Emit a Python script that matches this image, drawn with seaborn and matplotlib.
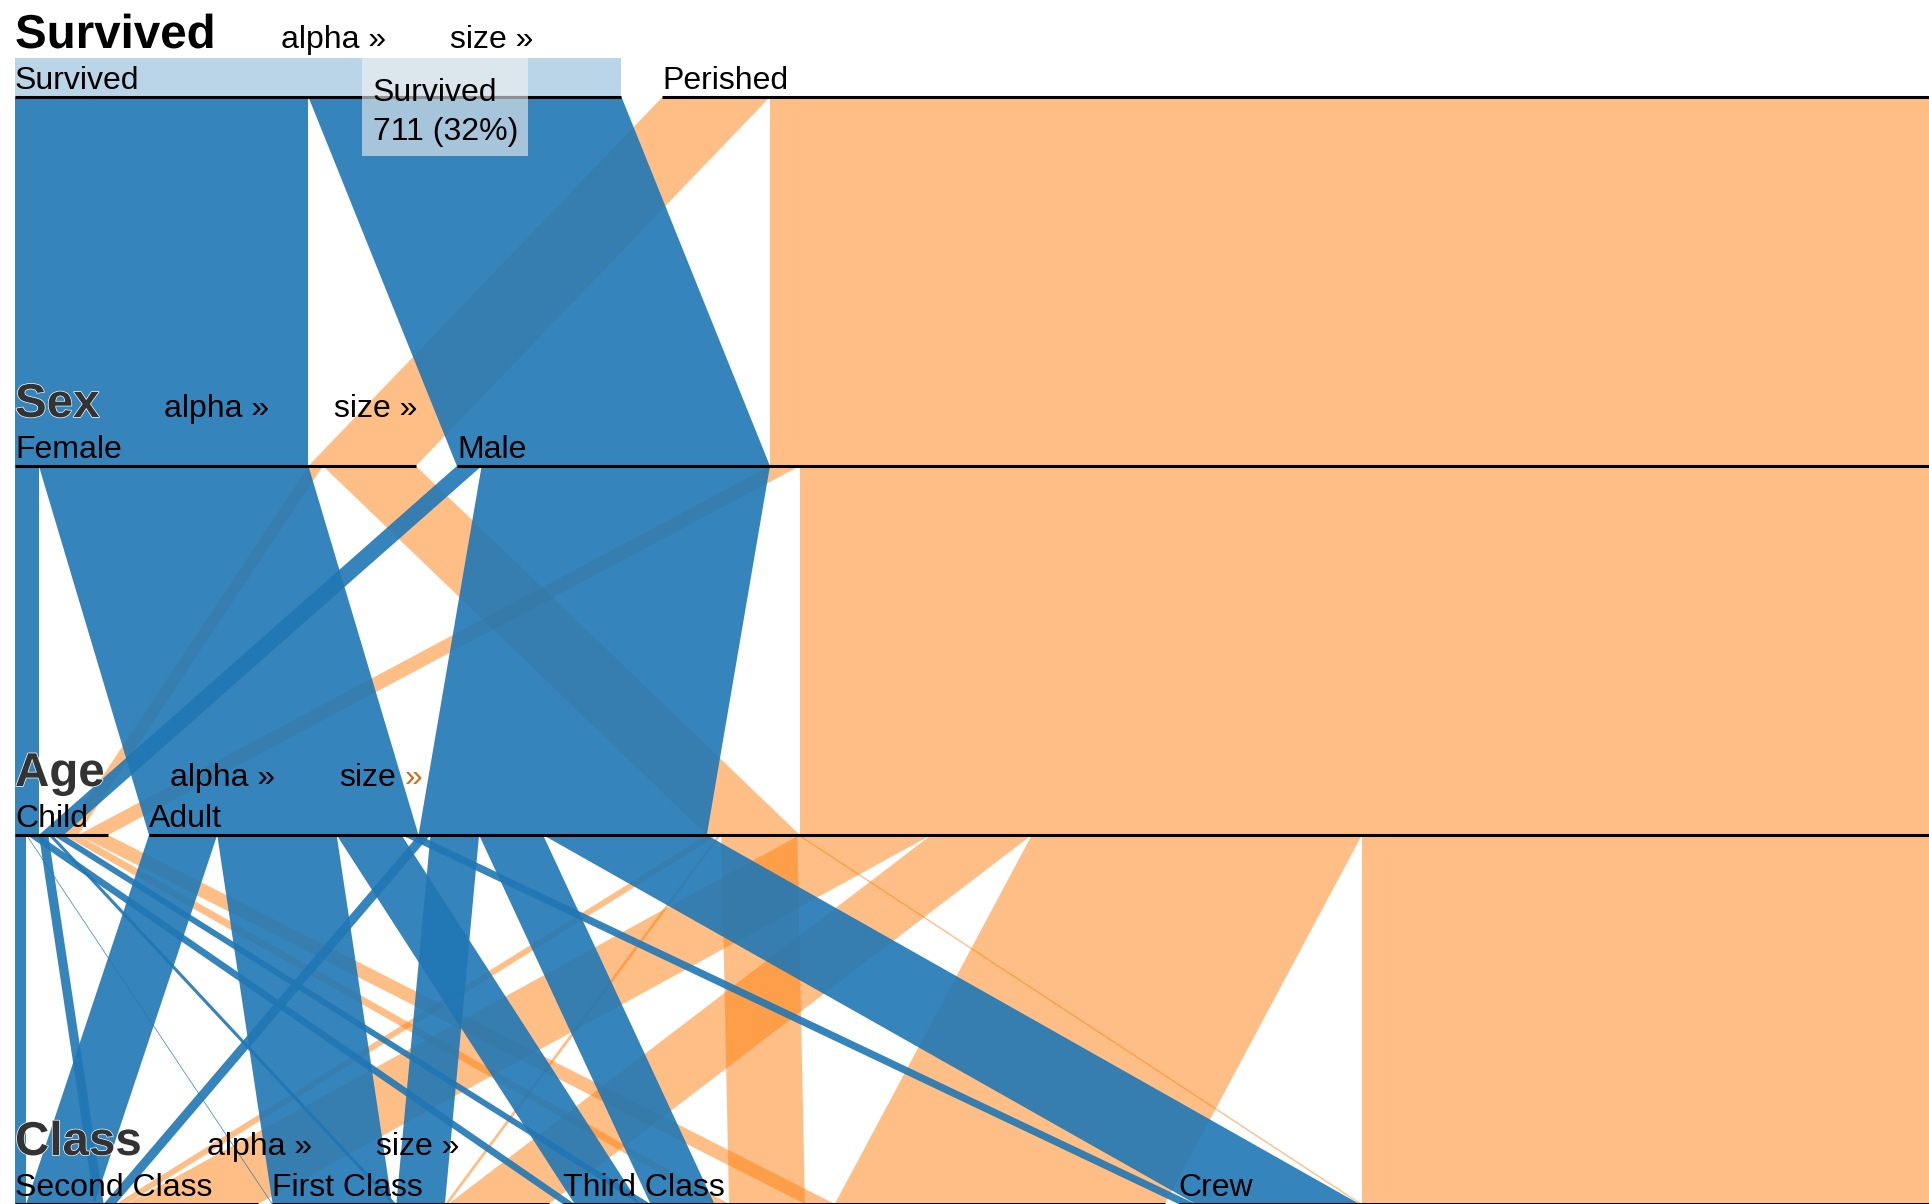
import matplotlib
matplotlib.use("Agg")
import matplotlib.pyplot as plt
import matplotlib.patheffects as pe
from matplotlib.patches import Rectangle
import pandas as pd
import seaborn as sns

# titanic passengers, every list follows `classes`
classes = ["First Class", "Second Class", "Third Class", "Crew"]
yes_child_male = [5, 11, 13, 0]
yes_child_female = [1, 13, 14, 0]
yes_adult_male = [57, 14, 75, 192]
yes_adult_female = [140, 80, 76, 20]
no_child_male = [0, 0, 35, 0]
no_child_female = [0, 0, 17, 0]
no_adult_male = [118, 154, 387, 670]
no_adult_female = [4, 13, 89, 3]

# dimensions and category order as they stand in the chart
dimensions = ["Survived", "Sex", "Age", "Class"]
survived_order = ["Survived", "Perished"]
sex_order = ["Female", "Male"]
age_order = ["Child", "Adult"]
class_order = ["Second Class", "First Class", "Third Class", "Crew"]
orders = [survived_order, sex_order, age_order, class_order]

cells = {
    ("Survived", "Child", "Male"): yes_child_male,
    ("Survived", "Child", "Female"): yes_child_female,
    ("Survived", "Adult", "Male"): yes_adult_male,
    ("Survived", "Adult", "Female"): yes_adult_female,
    ("Perished", "Child", "Male"): no_child_male,
    ("Perished", "Child", "Female"): no_child_female,
    ("Perished", "Adult", "Male"): no_adult_male,
    ("Perished", "Adult", "Female"): no_adult_female,
}
rows = []
for (surv, age, sex), counts in cells.items():
    for cls, n in zip(classes, counts):
        rows.append({"Survived": surv, "Sex": sex, "Age": age, "Class": cls, "n": n})
df = pd.DataFrame(rows)
for dim, order in zip(dimensions, orders):
    df[dim] = pd.Categorical(df[dim], categories=order, ordered=True)
total = df["n"].sum()

# layout (pixels)
W, H = 1929, 1204
PX = 0.853      # pixels per passenger
LEFT = 15
SPACING = 41    # shared between the gaps of one dimension
TOP = 97
ROW = 369


def px_x(p):
    return p / PX


def px_y(p):
    return p / ROW


sns.set_style("white")
plt.rcParams["font.family"] = ["Liberation Sans", "DejaVu Sans"]
pal = sns.color_palette("tab10")
blue, orange = pal[0], pal[1]

fig = plt.figure(figsize=(W / 100, H / 100), dpi=100)
ax = fig.add_axes([0, 0, 1, 1])
ax.set_xlim(-px_x(LEFT), px_x(W - LEFT))
ax.set_ylim(px_y(H - TOP), -px_y(TOP))
ax.axis("off")

# category positions per dimension
layout = []
for dim, order in zip(dimensions, orders):
    counts = df.groupby(dim, observed=False)["n"].sum()
    pad = px_x(SPACING) / (len(order) - 1)
    pos, x = {}, 0.0
    for c in order:
        pos[c] = (x, counts[c])
        x += counts[c] + pad
    layout.append(pos)

# ribbons between neighbouring dimensions
ribbons = []
for i in range(len(dimensions) - 1):
    g = df.groupby(dimensions[:i + 2], observed=True, sort=True)["n"].sum()
    src = {c: layout[i][c][0] for c in orders[i]}
    tgt = {c: layout[i + 1][c][0] for c in orders[i + 1]}
    for key, n in g.items():
        if n == 0:
            continue
        s, t = src[key[i]], tgt[key[i + 1]]
        xs = [s, s + n, t + n, t]
        ys = [i, i, i + 1, i + 1]
        src[key[i]] += n
        tgt[key[i + 1]] += n
        ribbons.append((key[0], xs, ys))

for surv, color, alpha in [("Perished", orange, 0.5), ("Survived", blue, 0.9)]:
    for k, xs, ys in ribbons:
        if k == surv:
            ax.fill(xs, ys, color=color, alpha=alpha, lw=0, zorder=2)

# hovered category highlight
x0, n0 = layout[0]["Survived"]
ax.add_patch(Rectangle((x0, -px_y(39)), n0, px_y(39), color=blue, alpha=0.3, lw=0, zorder=1))

halo = [pe.withStroke(linewidth=1, foreground="white")]
for i, (dim, order) in enumerate(zip(dimensions, orders)):
    for c in order:
        x, n = layout[i][c]
        ax.plot([x, x + n], [i, i], color="black", lw=2.2, solid_capstyle="butt", zorder=3)
        ax.text(x, i - px_y(8), c, fontsize=23, va="baseline", ha="left", color="black", zorder=4)
    name = ax.text(0, i - px_y(49), dim, fontsize=34.2, fontweight="bold", va="baseline",
                   color="black" if i == 0 else "#333333", path_effects=halo, zorder=4)
    a = ax.annotate("alpha »", xy=(1, i - px_y(49)), xycoords=(name, "data"),
                    xytext=(65, 0), textcoords="offset pixels", fontsize=23,
                    va="baseline", color="black", zorder=4)
    if dim == "Age":
        s = ax.annotate("size", xy=(1, i - px_y(49)), xycoords=(a, "data"),
                        xytext=(64, 0), textcoords="offset pixels", fontsize=23,
                        va="baseline", color="black", zorder=4)
        ax.annotate("»", xy=(1, i - px_y(49)), xycoords=(s, "data"),
                    xytext=(9, 0), textcoords="offset pixels", fontsize=23,
                    va="baseline", color="#c8701e", zorder=4)
    else:
        ax.annotate("size »", xy=(1, i - px_y(49)), xycoords=(a, "data"),
                    xytext=(64, 0), textcoords="offset pixels", fontsize=23,
                    va="baseline", color="black", zorder=4)

# tooltip for the hovered category
tip_x = x0 + px_x(347)
ax.add_patch(Rectangle((tip_x, -px_y(39)), px_x(166), px_y(98),
                       facecolor=(242 / 255, 242 / 255, 242 / 255), alpha=0.6, lw=0, zorder=5))
ax.text(tip_x + px_x(11), px_y(4), "Survived", fontsize=23, va="baseline", color="black", zorder=6)
ax.text(tip_x + px_x(11), px_y(43), f"{n0} ({n0 / total:.0%})", fontsize=23, va="baseline",
        color="black", zorder=6)

fig.savefig("out.png", dpi=100)
